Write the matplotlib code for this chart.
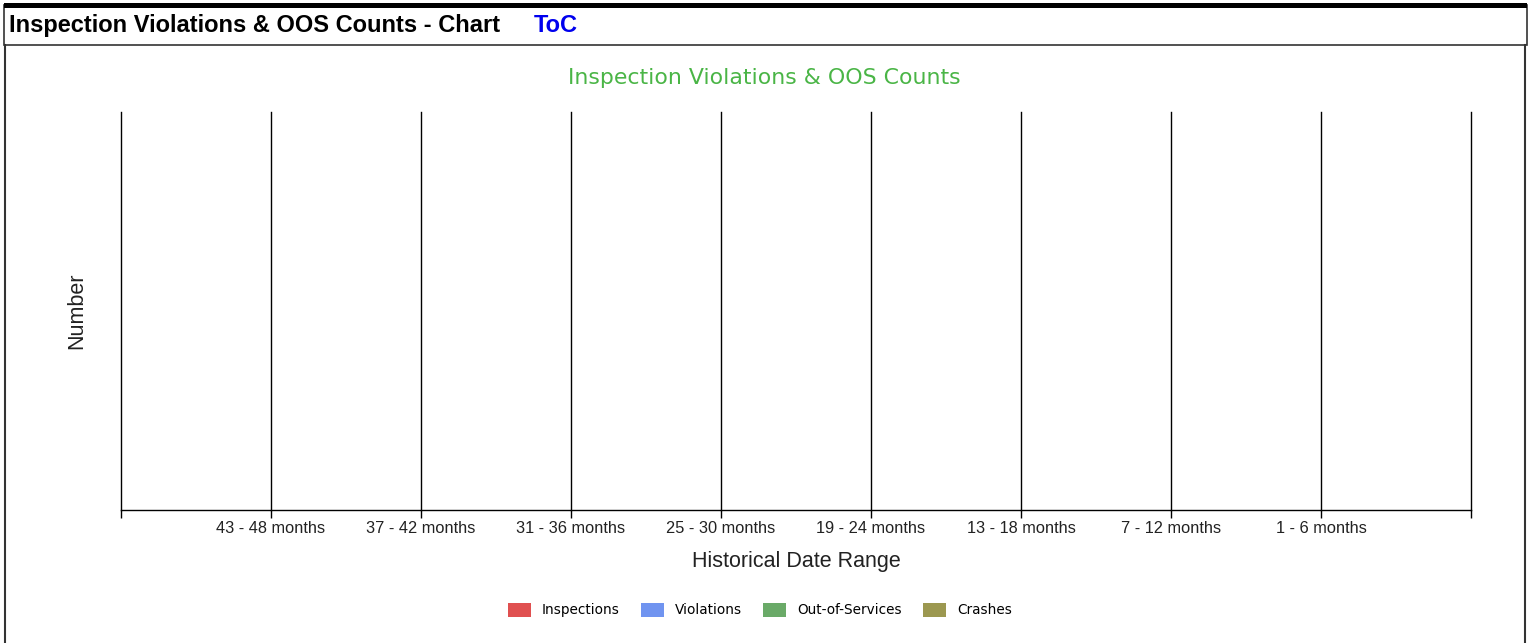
import matplotlib
matplotlib.use("Agg")
import matplotlib.pyplot as plt
from matplotlib.patches import Rectangle, Patch
import numpy as np

categories = ["43 - 48 months", "37 - 42 months", "31 - 36 months", "25 - 30 months",
              "19 - 24 months", "13 - 18 months", "7 - 12 months", "1 - 6 months"]
series_names = ["Inspections", "Violations", "Out-of-Services", "Crashes"]
series_colors = ["#E05050", "#7094F0", "#6AAA68", "#9C9850"]
# no records in any period
inspections = [0, 0, 0, 0, 0, 0, 0, 0]
violations = [0, 0, 0, 0, 0, 0, 0, 0]
out_of_services = [0, 0, 0, 0, 0, 0, 0, 0]
crashes = [0, 0, 0, 0, 0, 0, 0, 0]
series_values = [inspections, violations, out_of_services, crashes]

W, H = 1532, 643
fig = plt.figure(figsize=(W / 100, H / 100), dpi=100)

def fx(px):
    return px / W

def fy(py):
    return 1 - py / H

# page header box
fig.patches.append(Rectangle((fx(4), fy(45)), fx(1523), (45 - 5) / H, transform=fig.transFigure,
                             facecolor="white", edgecolor="#333333", linewidth=1.2))
fig.patches.append(Rectangle((fx(4), fy(8)), fx(1523), 5 / H, transform=fig.transFigure,
                             facecolor="black", edgecolor="none"))
# chart box sides
fig.add_artist(plt.Line2D([fx(5), fx(5)], [fy(45), 0], transform=fig.transFigure, color="#333333", lw=1.5))
fig.add_artist(plt.Line2D([fx(1525), fx(1525)], [fy(45), 0], transform=fig.transFigure, color="#333333", lw=1.5))

fig.text(fx(9), fy(32), "Inspection Violations & OOS Counts - Chart", fontsize=17, fontweight="bold",
         family="Liberation Sans", va="baseline", ha="left")
fig.text(fx(534), fy(32), "ToC", fontsize=17, fontweight="bold", color="#0000EE",
         family="Liberation Sans", va="baseline", ha="left")

ax = fig.add_axes([fx(121), fy(510), fx(1471 - 121), (510 - 112) / H])
x = np.arange(1, len(categories) + 1)
width = 0.2
for i, (name, vals, col) in enumerate(zip(series_names, series_values, series_colors)):
    ax.bar(x + (i - 1.5) * width, vals, width, color=col, linewidth=0, label=name)

ax.set_xlim(0, len(categories) + 1)
ax.set_ylim(0, 1)
for gx in range(0, len(categories) + 2):
    ax.axvline(gx, color="black", linewidth=1, clip_on=False)
ax.set_xticks(range(0, len(categories) + 2))
ax.set_xticklabels([""] + categories + [""], fontsize=11.8, family="Liberation Sans", color="#222222")
ax.tick_params(axis="x", direction="out", length=6, width=1, pad=2)
ax.set_yticks([])
for s in ["top", "left", "right"]:
    ax.spines[s].set_visible(False)
ax.spines["bottom"].set_linewidth(1)
ax.set_xlabel("Historical Date Range", fontsize=15.5, family="Liberation Sans", color="#222222")
ax.xaxis.set_label_coords(0.5, -0.102)
ax.set_ylabel("Number", fontsize=15.5, family="Liberation Sans", color="#222222", va="center")
ax.yaxis.set_label_coords(-0.0326, 0.5)

fig.text(fx(764), fy(78), "Inspection Violations & OOS Counts", fontsize=15.8, color="#4AB546",
         family="DejaVu Sans", ha="center", va="center")

handles = [Patch(facecolor=c, edgecolor="none", label=n) for n, c in zip(series_names, series_colors)]
fig.legend(handles=handles, loc="center", bbox_to_anchor=(fx(760), fy(610)), ncol=4, frameon=False,
           fontsize=9.8, handlelength=1.7, handleheight=1.3, columnspacing=1.55, handletextpad=0.8)

fig.savefig("out.png", dpi=100)
